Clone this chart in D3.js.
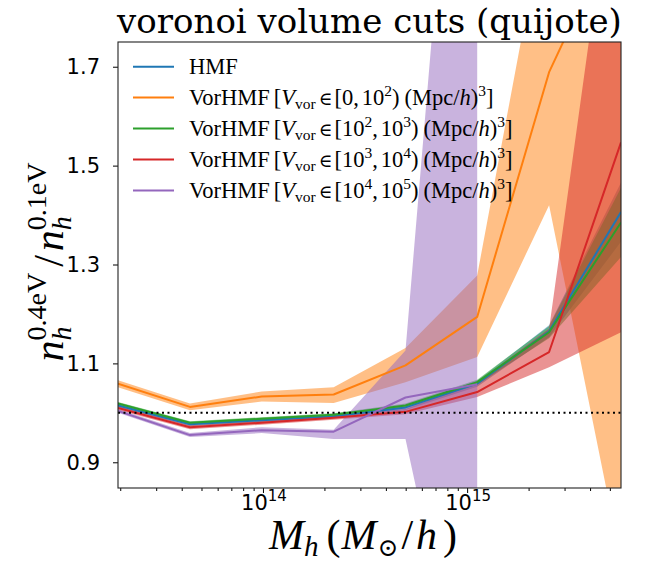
<!DOCTYPE html>
<html><head><meta charset="utf-8">
<script src="https://cdn.jsdelivr.net/npm/d3@7"></script>
<style>body{margin:0;background:#fff} svg{display:block}</style>
</head><body>
<svg id="c" width="647" height="566"></svg>
<script>
// ---------- data ----------
const mass = [1.95e13, 4.39e13, 9.86e13, 2.22e14, 4.99e14, 1.12e15, 2.52e15, 5.67e15];

const hmf    = [1.015, 0.977, 0.985, 0.993, 1.011, 1.059, 1.165, 1.406];
const hmfLo  = [1.011, 0.973, 0.981, 0.989, 1.006, 1.053, 1.153, 1.346];
const hmfHi  = [1.019, 0.981, 0.989, 0.997, 1.016, 1.065, 1.177, 1.466];

const vor0   = [1.059, 1.012, 1.033, 1.037, 1.096, 1.194, 1.689, 2.00];
const vor0Lo = [1.052, 1.005, 1.023, 1.020, 1.062, 1.113, 1.420, 0.70];
const vor0Hi = [1.066, 1.019, 1.043, 1.052, 1.131, 1.278, 2.056, 3.30];

const vor1   = [1.019, 0.980, 0.988, 0.996, 1.015, 1.062, 1.163, 1.385];
const vor1Lo = [1.016, 0.977, 0.985, 0.993, 1.011, 1.057, 1.151, 1.315];
const vor1Hi = [1.022, 0.983, 0.991, 0.999, 1.019, 1.067, 1.175, 1.455];

const vor2   = [1.010, 0.971, 0.980, 0.990, 1.002, 1.042, 1.123, 1.547];
const vor2Lo = [1.006, 0.967, 0.976, 0.986, 0.997, 1.032, 1.092, 1.163];
const vor2Hi = [1.014, 0.975, 0.984, 0.994, 1.008, 1.062, 1.170, 2.220];

const vor3   = [1.004, 0.955, 0.965, 0.962, 1.031, 1.058, null, null];
const vor3Lo = [1.000, 0.951, 0.959, 0.947, 0.947, 0.280, null, null];
const vor3Hi = [1.008, 0.959, 0.971, 0.966, 1.126, 2.850, null, null];

// legend bin edges: [lowBase, lowExp, highBase, highExp]
const binEdges = [["0", "", "10", "2"], ["10", "2", "10", "3"], ["10", "3", "10", "4"], ["10", "4", "10", "5"]];
const colors = ["#1f77b4", "#ff7f0e", "#2ca02c", "#d62728", "#9467bd"];
const yTicks = [0.9, 1.1, 1.3, 1.5, 1.7];
const xMajor = [1e14, 1e15];
const xMajorExp = ["14", "15"];
const yDomain = [0.848, 1.75];
const refLine = 1.0;
const titleText = "voronoi volume cuts (quijote)";

// ---------- layout ----------
const L = 118, R = 621, T = 42, B = 488;
const svg = d3.select("#c");
const x = d3.scaleLog().domain(d3.extent(mass)).range([L, R]);
const y = d3.scaleLinear().domain(yDomain).range([B, T]);
const mathFam = "'Liberation Serif', serif";

svg.append("defs").append("clipPath").attr("id", "clip")
  .append("rect").attr("x", L).attr("y", T).attr("width", R - L).attr("height", B - T);

const series = [
  {v: hmf, lo: hmfLo, hi: hmfHi},
  {v: vor0, lo: vor0Lo, hi: vor0Hi},
  {v: vor1, lo: vor1Lo, hi: vor1Hi},
  {v: vor2, lo: vor2Lo, hi: vor2Hi},
  {v: vor3, lo: vor3Lo, hi: vor3Hi}
];

const plot = svg.append("g").attr("clip-path", "url(#clip)");
const area = d3.area().defined(d => d.lo != null)
  .x(d => x(d.m)).y0(d => y(d.lo)).y1(d => y(d.hi));
const line = d3.line().defined(d => d.v != null).x(d => x(d.m)).y(d => y(d.v));

series.forEach((s, i) => {
  const pts = mass.map((m, k) => ({m, v: s.v[k], lo: s.lo[k], hi: s.hi[k]}));
  plot.append("path").attr("d", area(pts)).attr("fill", colors[i]).attr("fill-opacity", 0.5).attr("stroke", "none");
});
series.forEach((s, i) => {
  const pts = mass.map((m, k) => ({m, v: s.v[k]}));
  plot.append("path").attr("d", line(pts)).attr("fill", "none").attr("stroke", colors[i])
    .attr("stroke-width", 2).attr("stroke-linejoin", "round");
});
plot.append("line").attr("x1", L).attr("x2", R).attr("y1", y(refLine)).attr("y2", y(refLine))
  .attr("stroke", "#000").attr("stroke-width", 2).attr("stroke-dasharray", "2,3.5");

// ---------- axes ----------
const minor = [];
for (let e = 13; e <= 15; e++) for (let k = 2; k <= 9; k++) {
  const v = k * Math.pow(10, e);
  if (v >= x.domain()[0] && v <= x.domain()[1]) minor.push(v);
}
const gx = svg.append("g").attr("transform", `translate(0,${B})`);
gx.call(d3.axisBottom(x).tickValues(minor).tickSize(3).tickFormat(""));
const gxM = svg.append("g").attr("transform", `translate(0,${B})`);
gxM.call(d3.axisBottom(x).tickValues(xMajor).tickSize(5).tickFormat(""));
[gx, gxM].forEach(g => { g.select(".domain").remove(); g.selectAll("line").attr("stroke", "#000").attr("stroke-width", 1); });

xMajor.forEach((v, i) => {
  const t = svg.append("text").attr("x", x(v) + 1).attr("y", 510).attr("text-anchor", "middle")
    .attr("font-family", "'DejaVu Sans', sans-serif").attr("font-size", 21).attr("fill", "#000");
  t.append("tspan").text("10");
  t.append("tspan").attr("dy", -9).attr("font-size", 15).text(xMajorExp[i]);
});

const gy = svg.append("g").attr("transform", `translate(${L},0)`);
gy.call(d3.axisLeft(y).tickValues(yTicks).tickSize(5).tickPadding(13).tickFormat(d3.format(".1f")));
gy.select(".domain").remove();
gy.selectAll("line").attr("stroke", "#000").attr("stroke-width", 1);
gy.selectAll("text").attr("font-family", "'DejaVu Sans', sans-serif").attr("font-size", 21).attr("fill", "#000");

svg.append("rect").attr("x", L).attr("y", T).attr("width", R - L).attr("height", B - T)
  .attr("fill", "none").attr("stroke", "#222").attr("stroke-width", 1.1);

// ---------- math-like text helper ----------
function mathText(g, pieces) {
  let cx = 0, saved = 0, maxX = 0;
  pieces.forEach(p => {
    if (p.back) cx = saved;
    if (p.save) saved = cx;
    const t = g.append("text").attr("x", cx + (p.dx || 0)).attr("y", p.dy || 0)
      .attr("font-size", p.s).attr("font-family", p.f || mathFam)
      .attr("font-style", p.it ? "italic" : "normal").attr("fill", "#000")
      .style("white-space", "pre").text(p.t);
    const w = t.node().getComputedTextLength();
    cx += (p.dx || 0) + w;
    maxX = Math.max(maxX, cx);
  });
  return maxX;
}

// title
svg.append("text").attr("x", (L + R) / 2).attr("y", 33).attr("text-anchor", "middle")
  .attr("font-family", "'DejaVu Serif', serif").attr("font-size", 34).attr("fill", "#000").text(titleText);

// x label
{
  const g = svg.append("g");
  const fs = 42, ss = 29;
  const w = mathText(g, [
    {t: "M", it: true, s: fs},
    {t: "h", it: true, s: ss, dy: 7},
    {t: "(", s: fs, dx: 8},
    {t: "M", it: true, s: fs, dx: 1},
    {t: "\u2299", s: ss - 4, dy: 7, f: "'DejaVu Serif', serif", dx: 1},
    {t: "/", s: fs, dx: 3},
    {t: "h", it: true, s: fs, dx: 3},
    {t: ")", s: fs, dx: 6}
  ]);
  g.attr("transform", `translate(${363 - w / 2},549)`);
}

// y label
{
  const g = svg.append("g");
  const fs = 42, ss = 28;
  const w = mathText(g, [
    {t: "n", it: true, s: fs},
    {t: "h", it: true, s: ss, dy: 8, save: true},
    {t: "0.4eV", s: ss, dy: -17, back: true},
    {t: "/", s: fs, dx: 6},
    {t: "n", it: true, s: fs, dx: 4},
    {t: "h", it: true, s: ss, dy: 8, save: true},
    {t: "0.1eV", s: ss, dy: -17, back: true}
  ]);
  g.attr("transform", `translate(63,${(T + B) / 2 - 3}) rotate(-90) translate(${-w / 2},0)`);
}

// legend
{
  const fs = 22.5, ss = 15.5;
  const rows = [66.7, 97.5, 128.5, 159.5, 190.5];
  rows.forEach((ry, i) => {
    svg.append("line").attr("x1", 133).attr("x2", 174).attr("y1", ry).attr("y2", ry)
      .attr("stroke", colors[i]).attr("stroke-width", 2);
    const g = svg.append("g").attr("transform", `translate(189,${ry + 7})`);
    if (i === 0) {
      mathText(g, [{t: "HMF", s: fs}]);
    } else {
      const e = binEdges[i - 1];
      const p = [
        {t: "VorHMF", s: fs},
        {t: "[", s: fs, dx: 4},
        {t: "V", it: true, s: fs},
        {t: "vor", s: ss, dy: 4},
        {t: "\u2208", s: fs - 4, f: "'DejaVu Serif', serif", dx: 3},
        {t: "[" + e[0], s: fs, dx: 2},
        ];
      if (e[1]) p.push({t: e[1], s: ss, dy: -9});
      p.push({t: ",", s: fs});
      p.push({t: e[2], s: fs, dx: 3});
      p.push({t: e[3], s: ss, dy: -9});
      p.push({t: ")", s: fs});
      p.push({t: "(Mpc/", s: fs, dx: 5});
      p.push({t: "h", it: true, s: fs});
      p.push({t: ")", s: fs});
      p.push({t: "3", s: ss, dy: -9});
      p.push({t: "]", s: fs});
      mathText(g, p);
    }
  });
}
</script>
</body></html>
